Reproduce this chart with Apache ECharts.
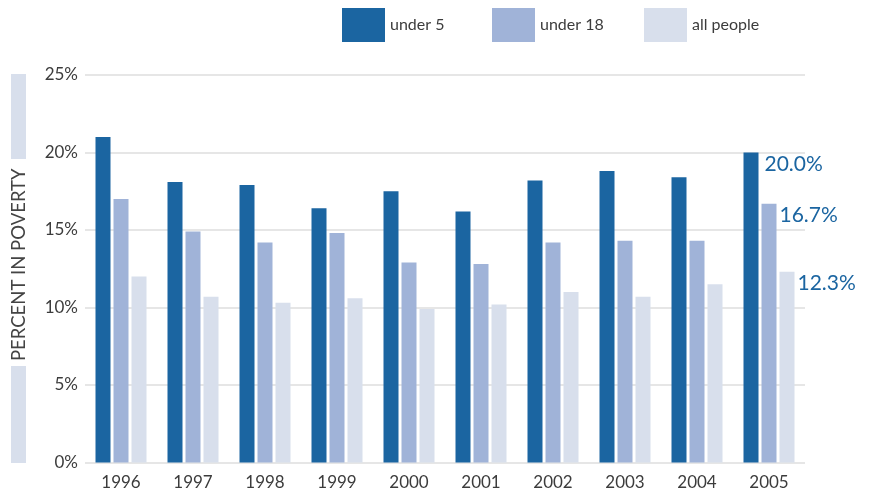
<!DOCTYPE html>
<html>
<head>
<meta charset="utf-8">
<script src="https://cdn.jsdelivr.net/npm/echarts@6/dist/echarts.min.js"></script>
<style>
  html, body { margin: 0; padding: 0; background: #fff; }
  #chart { width: 869px; height: 493px; }
</style>
</head>
<body>
<div id="chart"></div>
<script>
  // data
  var years = ['1996', '1997', '1998', '1999', '2000', '2001', '2002', '2003', '2004', '2005']
  var under5 = [21.0, 18.1, 17.9, 16.4, 17.5, 16.2, 18.2, 18.8, 18.4, 20.0]
  var under18 = [17.0, 14.9, 14.2, 14.8, 12.9, 12.8, 14.2, 14.3, 14.3, 16.7]
  var allPeople = [12.0, 10.7, 10.3, 10.6, 9.9, 10.2, 11.0, 10.7, 11.5, 12.3]
  var seriesNames = ['under 5', 'under 18', 'all people']
  var colors = ['#1b65a1', '#a0b3d8', '#d8dfec']

  var fontFamily = 'Lato, "Open Sans", sans-serif'
  var textColor = '#3c3c3c'

  // put a value label only on the last bar of each series
  function withLastLabel(values, dx) {
    return values.map(function (v, i) {
      if (i !== values.length - 1) return v
      return {
        value: v,
        label: {
          show: true,
          position: ['100%', 0],
          offset: [dx, 1],
          align: 'left',
          verticalAlign: 'top',
          color: '#1b65a1',
          fontSize: 21,
          fontFamily: fontFamily,
          formatter: function (p) { return p.value.toFixed(1) + '%' }
        }
      }
    })
  }

  function legendAt(name, left) {
    return {
      data: [name],
      left: left,
      top: 8,
      padding: 0,
      itemWidth: 43,
      itemHeight: 34,
      itemGap: 0,
      itemTextGap: 8,
      icon: 'rect',
      selectedMode: false,
      textStyle: { color: textColor, fontSize: 16, fontFamily: fontFamily }
    }
  }

  var chart = echarts.init(document.getElementById('chart'), null, { renderer: 'canvas' })

  chart.setOption({
    animation: false,
    backgroundColor: '#fff',
    color: colors,
    legend: [
      legendAt(seriesNames[0], 342),
      legendAt(seriesNames[1], 492),
      legendAt(seriesNames[2], 644)
    ],
    grid: {
      left: 85,
      right: 64,
      top: 75,
      bottom: 30.5,
      containLabel: false,
      outerBoundsMode: 'none'
    },
    xAxis: {
      type: 'category',
      data: years,
      axisLine: { show: false },
      axisTick: { show: false },
      axisLabel: {
        color: textColor,
        fontSize: 17,
        fontFamily: fontFamily,
        margin: 12
      }
    },
    yAxis: {
      type: 'value',
      min: 0,
      max: 25,
      interval: 5,
      name: 'PERCENT IN POVERTY',
      nameLocation: 'middle',
      nameRotate: 90,
      nameGap: 56,
      nameTextStyle: {
        color: '#444',
        fontSize: 18.5,
        fontFamily: fontFamily,
        padding: [0, 0, 0, 8]
      },
      axisLine: { show: false },
      axisTick: { show: false },
      axisLabel: {
        color: textColor,
        fontSize: 17,
        fontFamily: fontFamily,
        margin: 7,
        formatter: '{value}%'
      },
      splitLine: { lineStyle: { color: '#dedede', width: 1.5 } }
    },
    graphic: [
      { type: 'rect', left: 11, top: 74, shape: { width: 15, height: 85 }, style: { fill: '#d8dfec' }, silent: true },
      { type: 'rect', left: 11, top: 366, shape: { width: 15, height: 97 }, style: { fill: '#d8dfec' }, silent: true }
    ],
    series: [
      {
        name: seriesNames[0],
        type: 'bar',
        barWidth: 15,
        barGap: '20%',
        data: withLastLabel(under5, 6)
      },
      {
        name: seriesNames[1],
        type: 'bar',
        barWidth: 15,
        barGap: '20%',
        data: withLastLabel(under18, 3)
      },
      {
        name: seriesNames[2],
        type: 'bar',
        barWidth: 15,
        barGap: '20%',
        data: withLastLabel(allPeople, 3)
      }
    ]
  })
</script>
</body>
</html>
